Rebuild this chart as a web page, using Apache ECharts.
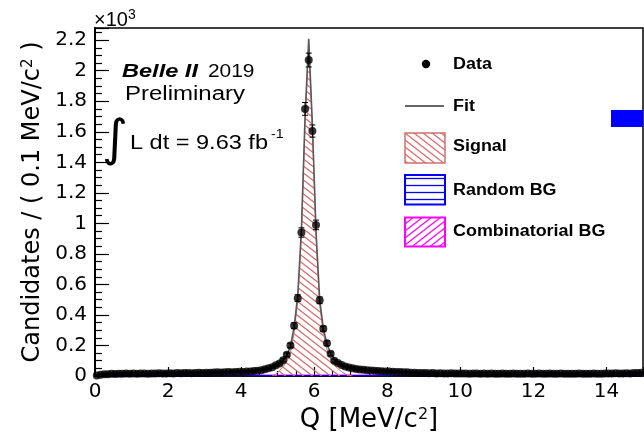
<!DOCTYPE html>
<html><head><meta charset="utf-8">
<script src="https://cdn.jsdelivr.net/npm/echarts@6/dist/echarts.min.js"></script>
<style>html,body{margin:0;padding:0;background:#fff}#c{width:644px;height:434px}</style>
</head><body><div id="c"></div>
<script>
// ---------------- data (units of 10^3 candidates per 0.1 MeV/c^2) ----------------
const binWidth = 0.1;
const dataCounts = [
  0.004, 0.008, 0.011, 0.012, 0.014, 0.013, 0.015, 0.014, 0.016, 0.015,
  0.016, 0.015, 0.017, 0.016, 0.015, 0.017, 0.016, 0.018, 0.017, 0.016,
  0.018, 0.017, 0.019, 0.018, 0.020, 0.019, 0.018, 0.020, 0.021, 0.020,
  0.022, 0.021, 0.023, 0.024, 0.023, 0.025, 0.026, 0.025, 0.027, 0.028,
  0.027, 0.029, 0.030, 0.032, 0.034, 0.038, 0.044, 0.050, 0.058, 0.070,
  0.082, 0.103, 0.140, 0.200, 0.330, 0.510, 0.940, 1.750, 2.070, 1.605,
  0.990, 0.496, 0.310, 0.215, 0.145, 0.100, 0.085, 0.072, 0.062, 0.055,
  0.050, 0.046, 0.043, 0.041, 0.038, 0.036, 0.035, 0.032, 0.031, 0.030,
  0.029, 0.028, 0.027, 0.026, 0.025, 0.024, 0.022, 0.021, 0.020, 0.019,
  0.019, 0.018, 0.019, 0.017, 0.018, 0.017, 0.016, 0.018, 0.017, 0.016,
  0.017, 0.016, 0.015, 0.016, 0.017, 0.015, 0.016, 0.014, 0.016, 0.015,
  0.015, 0.016, 0.014, 0.015, 0.016, 0.015, 0.014, 0.015, 0.016, 0.014,
  0.015, 0.016, 0.015, 0.014, 0.016, 0.015, 0.014, 0.016, 0.015, 0.014,
  0.015, 0.014, 0.016, 0.015, 0.014, 0.015, 0.016, 0.014, 0.015, 0.016,
  0.016, 0.017, 0.018, 0.016, 0.017, 0.018, 0.017, 0.019, 0.020, 0.021
];
const fitValues = [
  0.006, 0.010, 0.012, 0.013, 0.014, 0.014, 0.015, 0.015, 0.015, 0.016,
  0.016, 0.016, 0.016, 0.016, 0.017, 0.017, 0.017, 0.017, 0.017, 0.018,
  0.018, 0.018, 0.019, 0.019, 0.019, 0.020, 0.020, 0.020, 0.021, 0.021,
  0.022, 0.022, 0.023, 0.023, 0.024, 0.025, 0.025, 0.026, 0.027, 0.028,
  0.029, 0.030, 0.031, 0.033, 0.035, 0.038, 0.042, 0.048, 0.055, 0.066,
  0.080, 0.100, 0.135, 0.195, 0.320, 0.530, 0.960, 1.700, 2.210, 1.650,
  0.950, 0.500, 0.310, 0.210, 0.148, 0.110, 0.087, 0.073, 0.063, 0.056,
  0.050, 0.046, 0.043, 0.040, 0.038, 0.036, 0.034, 0.032, 0.031, 0.030,
  0.029, 0.028, 0.027, 0.026, 0.025, 0.024, 0.023, 0.022, 0.021, 0.021,
  0.020, 0.020, 0.019, 0.019, 0.018, 0.018, 0.018, 0.017, 0.017, 0.017,
  0.017, 0.016, 0.016, 0.016, 0.016, 0.016, 0.016, 0.016, 0.015, 0.015,
  0.015, 0.015, 0.015, 0.015, 0.015, 0.015, 0.015, 0.015, 0.015, 0.015,
  0.015, 0.015, 0.015, 0.015, 0.015, 0.015, 0.015, 0.015, 0.015, 0.015,
  0.015, 0.015, 0.015, 0.015, 0.015, 0.015, 0.015, 0.015, 0.016, 0.016,
  0.016, 0.016, 0.016, 0.016, 0.017, 0.017, 0.017, 0.018, 0.018, 0.019
];
const signalQ = [4.85, 4.95, 5.05, 5.15, 5.25, 5.35, 5.45, 5.55, 5.65, 5.75, 5.85, 5.95,
                 6.05, 6.15, 6.25, 6.35, 6.45, 6.55, 6.65, 6.75, 6.85, 6.95, 7.05];
const signalValues = [0, 0.012, 0.035, 0.062, 0.095, 0.155, 0.280, 0.490, 0.925, 1.665, 2.175, 1.615,
                      0.915, 0.465, 0.280, 0.175, 0.112, 0.075, 0.048, 0.028, 0.013, 0.004, 0];
const bgQ = [0.05, 0.5, 1, 2, 3, 4, 5, 6, 7, 8, 9, 10, 11, 12, 13, 14, 15];
const combBG   = [0.001, 0.003, 0.004, 0.005, 0.005, 0.005, 0.005, 0.005, 0.005, 0.005, 0.005, 0.005, 0.005, 0.005, 0.005, 0.005, 0.005];
const randomBG = [0.000, 0.001, 0.002, 0.002, 0.002, 0.002, 0.003, 0.002, 0.002, 0.002, 0.002, 0.002, 0.002, 0.002, 0.002, 0.002, 0.002];

// ---------------- helpers ----------------
const qCenters = dataCounts.map((_, i) => +((i + 0.5) * binWidth).toFixed(2));
const pairs = (xs, ys) => xs.map((x, i) => [x, ys[i]]);

function hatch(w, h, color, lw, kind) {
  const c = document.createElement('canvas');
  c.width = w; c.height = h;
  const g = c.getContext('2d');
  g.strokeStyle = color; g.lineWidth = lw;
  g.beginPath();
  if (kind === 'h') {
    g.moveTo(0, h / 2); g.lineTo(w, h / 2);
  } else {
    for (const k of [-1, 0, 1]) {
      if (kind === 'back') { g.moveTo(k * w - 0.3 * w, -0.3 * h); g.lineTo(k * w + 1.3 * w, 1.3 * h); }
      else { g.moveTo(k * w - 0.3 * w, 1.3 * h); g.lineTo(k * w + 1.3 * w, -0.3 * h); }
    }
  }
  g.stroke();
  return { image: c, repeat: 'repeat' };
}
const sigPattern  = () => hatch(9, 7, '#dc6a6a', 1.3, 'back');
const combPattern = () => hatch(9, 7, '#ff00ff', 1.3, 'fwd');
const randPattern = () => hatch(8, 7, '#0000ff', 1.3, 'h');

const SANS = '"Liberation Sans", Arial, sans-serif';
const AX = '"DejaVu Sans", sans-serif';

const chart = echarts.init(document.getElementById('c'), null, { renderer: 'canvas' });

function txt(x, y, s, font, sx, extra) {
  return Object.assign({
    type: 'text', x: x, y: y, scaleX: sx || 1, z: 100,
    style: { text: s, font: font, fill: '#000', textAlign: 'left', textVerticalAlign: 'middle' }
  }, extra || {});
}

const option = {
  animation: false,
  backgroundColor: '#fff',
  grid: { left: 95, right: 1, top: 28, bottom: 58, containLabel: false, outerBoundsMode: 'none',
          show: true, borderColor: '#000', borderWidth: 1.5, backgroundColor: 'transparent' },
  xAxis: {
    type: 'value', min: 0, max: 15, interval: 2,
    name: '{a|Q [MeV/c}{s|2}{a|]}', nameLocation: 'middle', nameGap: 25,
    nameTextStyle: { rich: {
      a: { fontFamily: AX, fontSize: 26, color: '#000' },
      s: { fontFamily: AX, fontSize: 16, color: '#000', verticalAlign: 'top' } } },
    axisLine: { lineStyle: { color: '#000', width: 1.5 } },
    axisTick: { inside: true, length: 9, lineStyle: { color: '#000', width: 1.2 } },
    minorTick: { show: true, splitNumber: 4, length: 5, lineStyle: { color: '#000', width: 1.2 } },
    axisLabel: { fontFamily: AX, fontSize: 20, color: '#000', margin: 6,
      formatter: v => (v % 2 === 0 ? String(v) : '') },
    splitLine: { show: false }
  },
  yAxis: {
    type: 'value', min: 0, max: 2.28, interval: 0.2,
    name: '{a|Candidates / ( 0.1 MeV/c}{s|2}{a| )}', nameLocation: 'middle', nameGap: 50, nameRotate: 90,
    nameTextStyle: { rich: {
      a: { fontFamily: AX, fontSize: 24, color: '#000' },
      s: { fontFamily: AX, fontSize: 15, color: '#000', verticalAlign: 'top' } } },
    axisLine: { lineStyle: { color: '#000', width: 2 } },
    axisTick: { inside: true, length: 14, lineStyle: { color: '#000', width: 1.2 } },
    minorTick: { show: true, splitNumber: 4, length: 7, lineStyle: { color: '#000', width: 1.2 } },
    axisLabel: { fontFamily: AX, fontSize: 20, color: '#000', margin: 8,
      formatter: v => (v > 2.21 ? '' : String(parseFloat(v.toFixed(1)))) },
    splitLine: { show: false }
  },
  series: [
    { name: 'Combinatorial BG', type: 'line', z: 2, data: pairs(bgQ, combBG), showSymbol: false,
      lineStyle: { color: '#ff00ff', width: 1.5 }, areaStyle: { color: combPattern(), opacity: 1 } },
    { name: 'Random BG', type: 'line', z: 3, data: pairs(bgQ, randomBG), showSymbol: false,
      lineStyle: { color: '#0000ff', width: 1.2 }, areaStyle: { color: randPattern(), opacity: 1 } },
    { name: 'Signal', type: 'line', z: 4, data: pairs(signalQ, signalValues), showSymbol: false,
      lineStyle: { color: '#d07070', width: 1 }, areaStyle: { color: sigPattern(), opacity: 1 } },
    { name: 'Fit', type: 'line', z: 5, data: pairs(qCenters, fitValues), showSymbol: false,
      lineStyle: { color: '#5a5a5a', width: 1.6 } },
    { name: 'Errors', type: 'custom', z: 6, data: pairs(qCenters, dataCounts), clip: true,
      renderItem: function (params, api) {
        const x = api.value(0), y = api.value(1);
        const e = Math.sqrt(y * 1000) / 1000;
        const t = api.coord([x, y + e]), b = api.coord([x, y - e]);
        const st = { stroke: '#000', lineWidth: 1 };
        return { type: 'group', children: [
          { type: 'line', shape: { x1: t[0], y1: t[1], x2: b[0], y2: b[1] }, style: st },
          { type: 'line', shape: { x1: t[0] - 3, y1: t[1], x2: t[0] + 3, y2: t[1] }, style: st },
          { type: 'line', shape: { x1: b[0] - 3, y1: b[1], x2: b[0] + 3, y2: b[1] }, style: st }
        ] };
      } },
    { name: 'Data', type: 'scatter', z: 7, data: pairs(qCenters, dataCounts), symbol: 'circle', symbolSize: 8,
      itemStyle: { color: '#000' } }
  ],
  graphic: [
    // x10^3 exponent
    txt(94, 20, '×10', '20px ' + SANS, 1),
    txt(128, 15, '3', '14px ' + SANS, 1),
    // annotations
    txt(122, 71.5, 'Belle II', 'italic bold 19px ' + SANS, 1.24),
    txt(208, 71.5, '2019', '19px ' + SANS, 1.1),
    txt(125, 94, 'Preliminary', '20px ' + SANS, 1.2),
    txt(102, 142, '∫', '50px ' + AX, 1),
    txt(130, 143.5, 'L dt = 9.63 fb', '21px ' + SANS, 1.12),
    txt(271, 134, '-1', '13px ' + SANS, 1.1),
    // legend
    { type: 'circle', z: 100, shape: { cx: 426, cy: 64, r: 4.2 }, style: { fill: '#000' } },
    txt(453, 64.5, 'Data', 'bold 16px ' + SANS, 1.12),
    { type: 'line', z: 100, shape: { x1: 405, y1: 106, x2: 444, y2: 106 }, style: { stroke: '#666', lineWidth: 2 } },
    txt(453, 107, 'Fit', 'bold 16px ' + SANS, 1.12),
    { type: 'rect', z: 100, shape: { x: 405, y: 133, width: 40, height: 30 }, style: { fill: sigPattern(), stroke: '#d07070', lineWidth: 1.5 } },
    txt(453, 147, 'Signal', 'bold 16px ' + SANS, 1.12),
    { type: 'rect', z: 100, shape: { x: 405, y: 175, width: 40, height: 29.5 }, style: { fill: randPattern(), stroke: '#0000ff', lineWidth: 2 } },
    txt(453, 191, 'Random BG', 'bold 16px ' + SANS, 1.12),
    { type: 'rect', z: 100, shape: { x: 405, y: 217.5, width: 40, height: 29 }, style: { fill: combPattern(), stroke: '#ff00ff', lineWidth: 2 } },
    txt(453, 231.5, 'Combinatorial BG', 'bold 16px ' + SANS, 1.12),
    // blue block at right edge
    { type: 'rect', z: 100, shape: { x: 611, y: 110, width: 32, height: 17 }, style: { fill: '#0000ff' } }
  ]
};
chart.setOption(option);
</script>
</body></html>
